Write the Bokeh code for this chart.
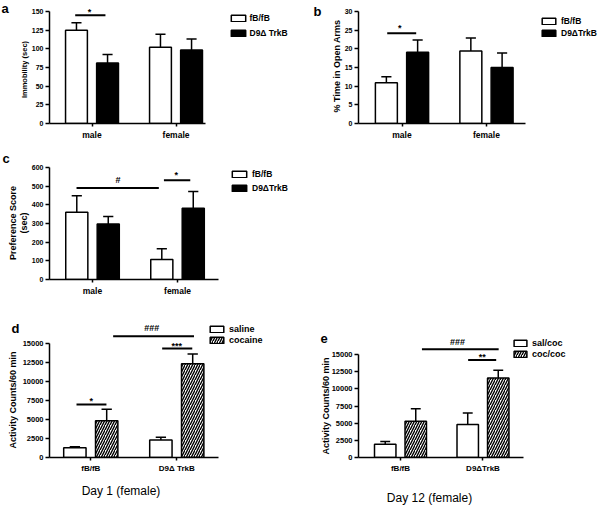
import math
from bokeh.plotting import figure
from bokeh.layouts import column, row
from bokeh.models import Range1d, FixedTicker, Legend, LegendItem, Spacer
from bokeh.embed import file_html
from bokeh.resources import INLINE
from bokeh.core.properties import value

FONT = "Liberation Sans"

# ---------------- data ----------------
# panel a : forced swim immobility
a_groups = ["male", "female"]
a_series = ["fB/fB", "D9Δ TrkB"]
a_fb = [125, 102]
a_fb_err = [10, 17.5]
a_d9 = [81, 98.5]
a_d9_err = [11.4, 14.5]
a_yticks = [0, 25, 50, 75, 100, 125, 150]
a_ylabel = ["Immobility (sec)"]
a_sig_x0 = [-0.2]
a_sig_x1 = [0.16]
a_sig_y = [145]
a_sig_text = ["*"]
a_sig_tx = [-0.03]
a_sig_ty = [152]

# panel b : elevated plus maze
b_groups = ["male", "female"]
b_series = ["fB/fB", "D9ΔTrkB"]
b_fb = [10.9, 19.4]
b_fb_err = [1.6, 3.5]
b_d9 = [19.1, 15.0]
b_d9_err = [3.3, 3.9]
b_yticks = [0, 5, 10, 15, 20, 25, 30]
b_ylabel = ["% Time in Open Arms"]
b_sig_x0 = [-0.175]
b_sig_x1 = [0.168]
b_sig_y = [24.2]
b_sig_text = ["*"]
b_sig_tx = [-0.026]
b_sig_ty = [26.0]

# panel c : place preference
c_groups = ["male", "female"]
c_series = ["fB/fB", "D9ΔTrkB"]
c_fb = [360, 107]
c_fb_err = [89, 58]
c_d9 = [298, 382]
c_d9_err = [39, 90]
c_yticks = [0, 100, 200, 300, 400, 500, 600]
c_ylabel = ["Preference Score", "(sec)"]
c_sig_x0 = [-0.188, 0.84]
c_sig_x1 = [0.78, 1.15]
c_sig_y = [490, 532]
c_sig_text = ["#", "*"]
c_sig_tx = [0.30, 0.985]
c_sig_ty = [533, 568]

# panel d : activity day 1
d_groups = ["fB/fB", "D9Δ TrkB"]
d_series = ["saline", "cocaine"]
d_sal = [1280, 2290]
d_sal_err = [130, 360]
d_coc = [4850, 12350]
d_coc_err = [1500, 1280]
d_yticks = [0, 2500, 5000, 7500, 10000, 12500, 15000]
d_ylabel = ["Activity Counts/60 min"]
d_sig_x0 = [-0.166, 0.83, 0.26]
d_sig_x1 = [0.182, 1.18, 1.2]
d_sig_y = [6970, 14340, 15970]
d_sig_text = ["*", "***", "###"]
d_sig_tx = [0.004, 1.0, 0.71]
d_sig_ty = [7720, 15000, 16985]

# panel e : activity day 12
e_groups = ["fB/fB", "D9ΔTrkB"]
e_series = ["sal/coc", "coc/coc"]
e_sal = [1930, 4820]
e_sal_err = [410, 1650]
e_coc = [5280, 11600]
e_coc_err = [1830, 1100]
e_yticks = [0, 2500, 5000, 7500, 10000, 12500, 15000]
e_ylabel = ["Activity Counts/60 min"]
e_sig_x0 = [0.82, 0.26]
e_sig_x1 = [1.16, 1.19]
e_sig_y = [14220, 15780]
e_sig_text = ["**", "###"]
e_sig_tx = [0.99, 0.69]
e_sig_ty = [14910, 16835]

panel_letters = ["a", "b", "c", "d", "e"]
day_titles = ["Day 1 (female)", "Day 12 (female)"]

DODGE = 0.185
BARW = 0.26
CAP = 0.06
HATCH = dict(hatch_pattern="/", hatch_color="black", hatch_scale=5, hatch_weight=1.4)


def make_panel(W, H, left, fw, fh, xr, y_end, yticks, ytick_size, groups, xlab_size):
    p = figure(width=W, height=H, x_range=Range1d(*xr), y_range=Range1d(0, y_end),
               min_border_left=left, min_border_right=W - left - fw,
               min_border_top=0, min_border_bottom=H - fh,
               toolbar_location=None, output_backend="svg",
               background_fill_color="white", border_fill_color="white")
    p.outline_line_color = None
    p.xgrid.visible = False
    p.ygrid.visible = False
    ya = p.yaxis[0]
    xa = p.xaxis[0]
    ya.bounds = (yticks[0], yticks[-1])
    ya.ticker = FixedTicker(ticks=yticks)
    ya.major_label_text_font_size = f"{ytick_size}px"
    xa.ticker = FixedTicker(ticks=list(range(len(groups))))
    xa.major_label_overrides = {i: g for i, g in enumerate(groups)}
    xa.major_label_text_font_size = f"{xlab_size}px"
    for ax in (xa, ya):
        ax.axis_line_width = 1.5
        ax.axis_line_color = "black"
        ax.major_tick_line_width = 1.5
        ax.major_tick_line_color = "black"
        ax.major_tick_in = 0
        ax.minor_tick_line_color = None
        ax.major_label_text_font = FONT
        ax.major_label_text_font_style = "bold"
        ax.major_label_text_color = "black"
    ya.major_tick_out = 4
    ya.major_label_standoff = 2
    xa.major_tick_out = 3
    xa.major_label_standoff = 3
    return p


def bars(p, vals, errs, offset, fill, hatch=False):
    xs = [i + offset for i in range(len(vals))]
    tops = [v + e for v, e in zip(vals, errs)]
    p.segment(x0=xs, y0=vals, x1=xs, y1=tops, line_color="black", line_width=1.5)
    p.segment(x0=[x - CAP for x in xs], y0=tops, x1=[x + CAP for x in xs], y1=tops,
              line_color="black", line_width=1.5)
    kw = HATCH if hatch else {}
    p.vbar(x=xs, top=vals, bottom=0, width=BARW, fill_color=fill,
           line_color="black", line_width=1.5, **kw)


def sig(p, x0, x1, y, texts, tx, ty, size=9):
    p.segment(x0=x0, y0=y, x1=x1, y1=y, line_color="black", line_width=2)
    offs = [2 if t.startswith("*") else 0 for t in texts]
    p.text(x=tx, y=ty, text=texts, y_offset=offs, text_font=value(FONT),
           text_font_style="bold", text_font_size=f"{size}px",
           text_align="center", text_baseline="middle", text_color="black")


# ---------------- panel a ----------------
pa = make_panel(300, 145, 49, 156, 123, (-0.506, 1.351), 164.7, a_yticks, 7, a_groups, 8.5)
bars(pa, a_fb, a_fb_err, -DODGE, "white")
bars(pa, a_d9, a_d9_err, DODGE, "black")
sig(pa, a_sig_x0, a_sig_x1, a_sig_y, a_sig_text, a_sig_tx, a_sig_ty)

# ---------------- panel b ----------------
pb = make_panel(300, 145, 58, 167, 123, (-0.515, 1.462), 32.95, b_yticks, 7, b_groups, 8.5)
bars(pb, b_fb, b_fb_err, -DODGE, "white")
bars(pb, b_d9, b_d9_err, DODGE, "black")
sig(pb, b_sig_x0, b_sig_x1, b_sig_y, b_sig_text, b_sig_tx, b_sig_ty)

# ---------------- panel c ----------------
pc = make_panel(300, 160, 49, 169, 134, (-0.506, 1.482), 717.9, c_yticks, 7, c_groups, 8.5)
bars(pc, c_fb, c_fb_err, -DODGE, "white")
bars(pc, c_d9, c_d9_err, DODGE, "black")
sig(pc, c_sig_x0, c_sig_x1, c_sig_y, c_sig_text, c_sig_tx, c_sig_ty)

# ---------------- panel d ----------------
pd_ = make_panel(300, 200, 49, 169, 152, (-0.48, 1.485), 20000, d_yticks, 7.5, d_groups, 8)
bars(pd_, d_sal, d_sal_err, -DODGE, "white")
bars(pd_, d_coc, d_coc_err, DODGE, "white", True)
sig(pd_, d_sig_x0, d_sig_x1, d_sig_y, d_sig_text, d_sig_tx, d_sig_ty)

# ---------------- panel e ----------------
pe = make_panel(300, 200, 58, 165, 161, (-0.509, 1.491), 22156, e_yticks, 7.5, e_groups, 8)
bars(pe, e_sal, e_sal_err, -DODGE, "white")
bars(pe, e_coc, e_coc_err, DODGE, "white", True)
sig(pe, e_sig_x0, e_sig_x1, e_sig_y, e_sig_text, e_sig_tx, e_sig_ty)

layout = column(row(pa, pb), row(pc, Spacer(width=300, height=160)), row(pd_, pe))

# ---------------- overlay: letters, y titles, legends, day titles ----------------
ov = figure(width=600, height=505, x_range=Range1d(0, 600), y_range=Range1d(505, 0),
            x_axis_type=None, y_axis_type=None, min_border=0,
            toolbar_location=None, output_backend="svg",
            background_fill_alpha=0, border_fill_alpha=0,
            styles={"position": "absolute", "left": "0px", "top": "0px",
                    "pointer-events": "none"})
ov.outline_line_color = None
ov.grid.visible = False

letter_x = [1, 313, 2, 11, 320]
letter_y = [8, 11.3, 157.5, 327.7, 338]
ov.text(x=letter_x, y=letter_y, text=panel_letters, text_font=value(FONT),
        text_font_style="bold", text_font_size="13px", text_align="left",
        text_baseline="middle", text_color="black")

title_x = [120.5, 429]
title_y = [490.7, 497]
ov.text(x=title_x, y=title_y, text=day_titles, text_font=value(FONT),
        text_font_size="12px", text_align="center", text_baseline="middle",
        text_color="black")

# rotated y-axis titles
ylab_text = a_ylabel + b_ylabel + c_ylabel + d_ylabel + e_ylabel
ylab_x = [24, 336, 12.5, 23.7, 12.5, 325]
ylab_y = [69, 65.5, 222.5, 222.5, 399.5, 405.5]
ylab_size = ["7.5px", "9px", "9px", "9px", "9px", "9px"]
ov.text(x=ylab_x, y=ylab_y, text=ylab_text, angle=math.pi / 2, text_font=value(FONT),
        text_font_style="bold", text_font_size=ylab_size, text_align="center",
        text_baseline="middle", text_color="black")


def legend(labels, series, gx, gw, r1c, pitch, size, standoff):
    h = max(1.15 * size, 8)
    bottom = r1c - h / 2 + pitch + h
    items = []
    for lab, (vals, fill, hatch) in zip(labels, series):
        kw = HATCH if hatch else {}
        # hidden proxy renderer carrying the series, used only for the legend swatch
        r = ov.vbar(x=list(range(len(vals))), top=vals, width=BARW, fill_color=fill,
                    line_color="black", line_width=1.5, visible=False, **kw)
        items.append(LegendItem(label=lab, renderers=[r]))
    lg = Legend(items=items, location=(gx, 505 - bottom), padding=0, margin=0,
                spacing=int(round(pitch - h)), glyph_width=gw, glyph_height=8,
                label_height=8, label_standoff=standoff,
                label_text_font=FONT, label_text_font_style="bold",
                label_text_font_size=f"{size}px", label_text_color="black",
                border_line_alpha=0, background_fill_alpha=0,
                inactive_fill_alpha=0)
    ov.add_layout(lg)


legend(a_series, [(a_fb, "white", False), (a_d9, "black", False)], 228.5, 18, 17.7, 15, 8.5, 3)
legend(b_series, [(b_fb, "white", False), (b_d9, "black", False)], 540, 17, 20.7, 12, 8.5, 4)
legend(c_series, [(c_fb, "white", False), (c_d9, "black", False)], 230, 18, 174.7, 13.6, 8.5, 4)
legend(d_series, [(d_sal, "white", False), (d_coc, "white", True)], 208, 17, 328.3, 11.7, 9, 4)
legend(e_series, [(e_sal, "white", False), (e_coc, "white", True)], 512, 16, 342.8, 11.2, 9, 4)

open("out.html", "w").write(file_html([layout, ov], INLINE))
